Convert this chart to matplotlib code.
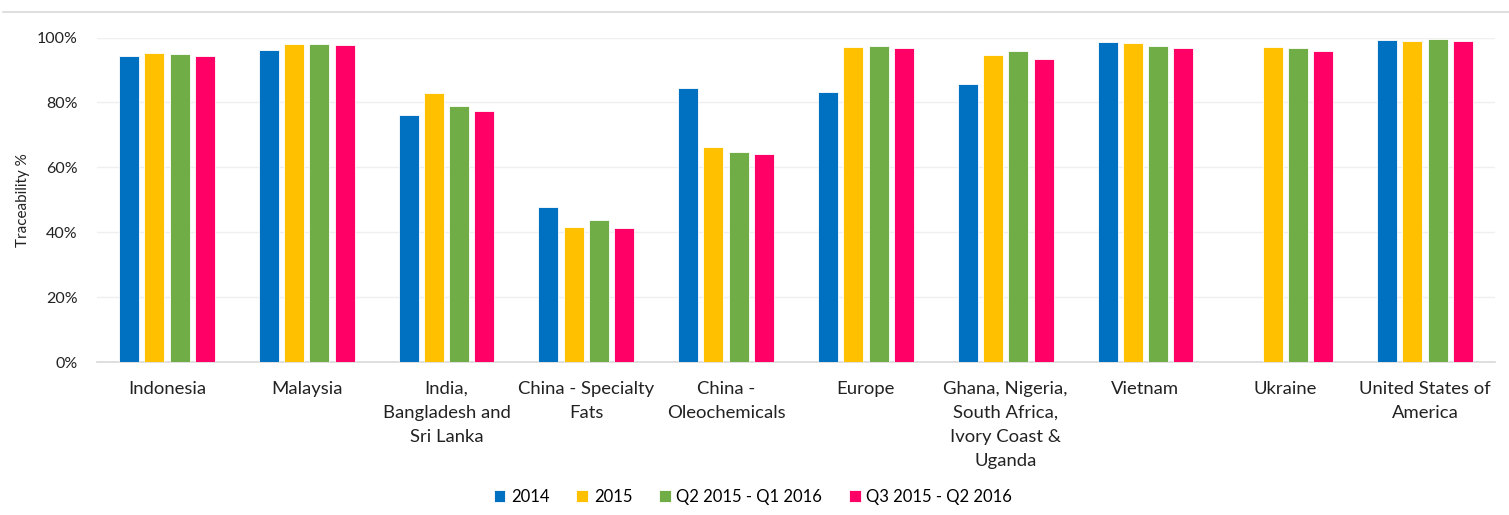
import matplotlib.pyplot as plt
from matplotlib.lines import Line2D
import numpy as np

plt.rcParams['font.family'] = ['Lato', 'DejaVu Sans']

categories = ["Indonesia", "Malaysia", "India,\nBangladesh and\nSri Lanka",
              "China - Specialty\nFats", "China -\nOleochemicals", "Europe",
              "Ghana, Nigeria,\nSouth Africa,\nIvory Coast &\nUganda",
              "Vietnam", "Ukraine", "United States of\nAmerica"]
series_names = ["2014", "2015", "Q2 2015 - Q1 2016", "Q3 2015 - Q2 2016"]

s2014 = [94.4, 96.1, 76.1, 47.7, 84.4, 83.2, 85.6, 98.5, np.nan, 99.2]
s2015 = [95.1, 97.9, 82.9, 41.5, 66.4, 97.2, 94.6, 98.2, 97.1, 99.0]
s_q2 = [94.9, 97.9, 79.0, 43.9, 64.6, 97.3, 96.0, 97.3, 96.8, 99.6]
s_q3 = [94.4, 97.6, 77.4, 41.3, 64.0, 96.9, 93.4, 96.9, 96.0, 99.1]

colors = ["#0070C0", "#FFC000", "#70AD47", "#FF0066"]

fig = plt.figure(figsize=(15.09, 5.15), dpi=100)
ax = fig.add_axes([0.0643, 0.297, 0.9264, 0.630])

x = np.arange(len(categories))
step = 0.181
width = 0.143
for i, (vals, c, name) in enumerate(zip([s2014, s2015, s_q2, s_q3], colors, series_names)):
    v = np.array(vals) / 100.0
    ax.bar(x + (i - 1.5) * step, v, width, color=c, label=name,
           edgecolor='white', linewidth=0.6, zorder=3)

ax.set_xlim(-0.5, len(categories) - 0.5)
ax.set_ylim(0, 1.0)
ax.set_yticks(np.arange(0, 1.01, 0.2))
ax.set_yticklabels(["%d%%" % int(round(t * 100)) for t in np.arange(0, 1.01, 0.2)])
ax.set_xticks(x)
ax.set_xticklabels(categories, linespacing=1.63, va='top', fontsize=13.3)
ax.tick_params(axis='y', length=0, labelsize=11.5, colors='#222222', pad=14)
ax.tick_params(axis='x', length=0, colors='#222222', pad=13.5)
ax.grid(axis='y', color='#EFEFEF', linewidth=1.0, zorder=0)
for s in ['top', 'right', 'left']:
    ax.spines[s].set_visible(False)
ax.spines['bottom'].set_color('#D9D9D9')
ax.spines['bottom'].set_linewidth(1.2)
ax.set_ylabel("Traceability %", fontsize=11, color='#222222', labelpad=5)

fig.legend(loc='center', bbox_to_anchor=(0.499, 0.035), ncol=4, frameon=False,
           fontsize=12, handlelength=0.7, handleheight=0.7, handletextpad=0.35,
           columnspacing=1.6)

fig.add_artist(Line2D([0.002, 1.0], [1 - 11.5 / 515, 1 - 11.5 / 515],
                      color='#D9D9D9', linewidth=1.2))

fig.savefig("out.png", dpi=100)
